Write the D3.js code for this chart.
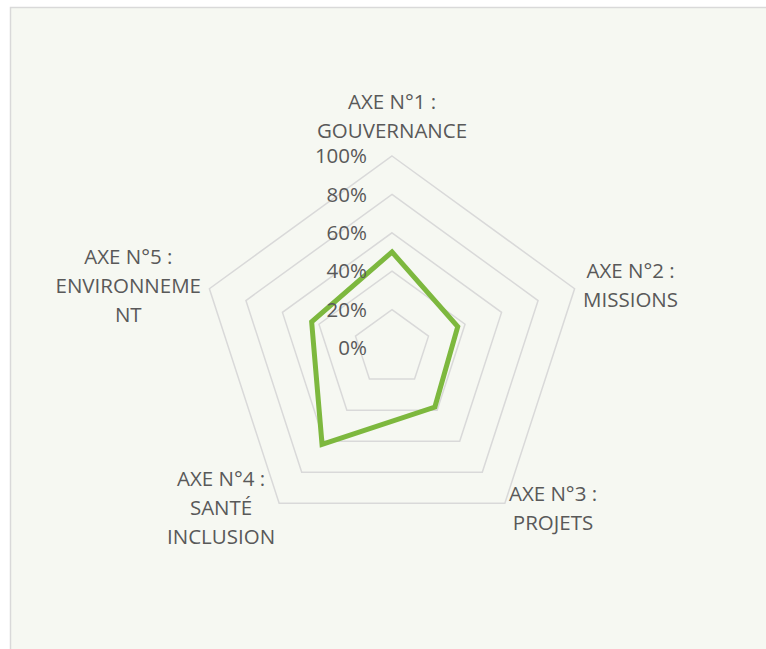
<!DOCTYPE html>
<html>
<head>
<meta charset="utf-8">
<script src="https://cdn.jsdelivr.net/npm/d3@7"></script>
<style>
  html, body { margin: 0; padding: 0; background: #ffffff; }
  svg { display: block; }
  text { font-family: "Open Sans", "Noto Sans", sans-serif; fill: #595959; }
</style>
</head>
<body>
<svg id="chart" width="766" height="649"></svg>
<script>
// Axis names (line breaks as displayed)
const categories = [
  "AXE N°1 :\nGOUVERNANCE",
  "AXE N°2 :\nMISSIONS",
  "AXE N°3 :\nPROJETS",
  "AXE N°4 :\nSANTÉ\nINCLUSION",
  "AXE N°5 :\nENVIRONNEME\nNT"
];
// Score per axis (fraction of 100%)
const values = [0.50, 0.36, 0.38, 0.62, 0.44];
// Radial gridline levels and their labels
const tickValues = [0, 0.2, 0.4, 0.6, 0.8, 1.0];
const tickLabels = ["0%", "20%", "40%", "60%", "80%", "100%"];

const W = 766, H = 649;
const cx = 392, cy = 348, R = 192;
const fontSize = 20.5;
const svg = d3.select("#chart");

// Chart area background and border
svg.append("rect")
  .attr("x", 10.5).attr("y", 7.5)
  .attr("width", W).attr("height", H)
  .attr("fill", "#F6F8F2")
  .attr("stroke", "#D9D9D9").attr("stroke-width", 1.5);

const r = d3.scaleLinear().domain([0, 1]).range([0, R]);
const angle = d3.scalePoint()
  .domain(d3.range(categories.length + 1))
  .range([0, 2 * Math.PI]);

const g = svg.append("g").attr("transform", `translate(${cx},${cy})`);

// Pentagon gridlines
const gridLine = d3.lineRadial()
  .angle((d, i) => angle(i))
  .radius(d => r(d))
  .curve(d3.curveLinearClosed);

g.selectAll("path.grid")
  .data(tickValues.filter(v => v > 0))
  .join("path")
  .attr("class", "grid")
  .attr("d", v => gridLine(categories.map(() => v)))
  .attr("fill", "none")
  .attr("stroke", "#D9D9D9")
  .attr("stroke-width", 1.5);

// Data series
g.append("path")
  .attr("d", gridLine(values))
  .attr("fill", "none")
  .attr("stroke", "#7DB83E")
  .attr("stroke-width", 5)
  .attr("stroke-linejoin", "miter");

// Radial tick labels along the first axis
g.selectAll("text.tick")
  .data(tickValues)
  .join("text")
  .attr("class", "tick")
  .attr("x", -25)
  .attr("y", v => -r(v))
  .attr("dy", "0.35em")
  .attr("text-anchor", "end")
  .attr("font-size", fontSize)
  .text((v, i) => tickLabels[i]);

// Category labels
const lineH = 29;
const pad = 12;
categories.forEach((name, i) => {
  const a = angle(i);
  const sx = Math.sin(a), sy = -Math.cos(a);
  const ax = (R + pad) * sx, ay = (R + pad) * sy;
  const lines = name.split("\n");
  const t = g.append("text").attr("font-size", fontSize).attr("text-anchor", "middle");
  lines.forEach((ln, j) => t.append("tspan").attr("x", 0).attr("dy", j === 0 ? 0 : lineH).text(ln));
  const widths = [];
  t.selectAll("tspan").each(function () { widths.push(this.getComputedTextLength()); });
  const bw = d3.max(widths);
  const bh = lines.length * lineH;
  let bx, by; // block center
  if (Math.abs(sx) < 0.01) { bx = ax; by = ay - bh / 2; }
  else if (sx > 0) { bx = ax - 3 + bw / 2; by = ay + (Math.abs(sy) > 0.5 ? -6 : 0); }
  else { bx = ax + 3 - bw / 2; by = ay + (Math.abs(sy) > 0.5 ? -6 : 0); }
  const top = by - bh / 2 + lineH / 2;
  t.attr("transform", `translate(${bx},${top})`).attr("dominant-baseline", "central");
  t.selectAll("tspan").attr("x", 0);
});
</script>
</body>
</html>
